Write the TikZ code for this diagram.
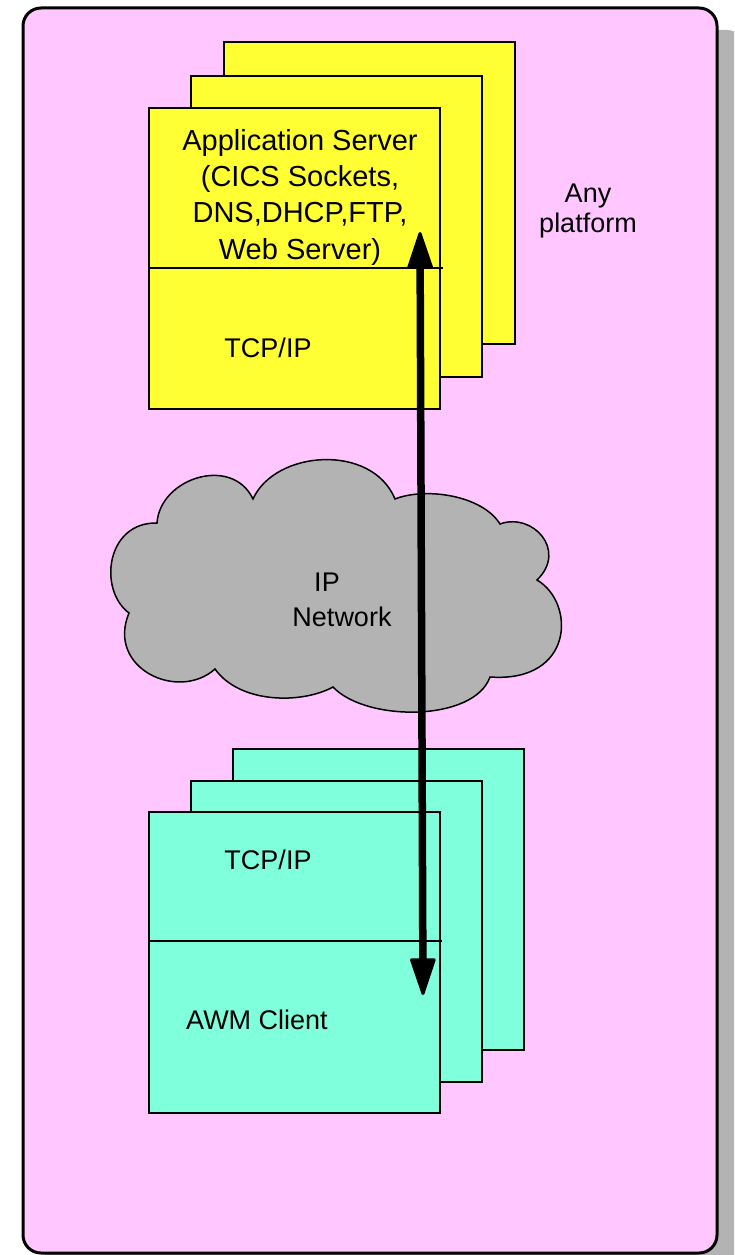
\documentclass[tikz,border=0pt]{standalone}
\usepackage{fontspec}
\setmainfont{Liberation Sans}
\usetikzlibrary{arrows.meta}
\definecolor{pinkbg}{HTML}{FFC6FF}
\definecolor{shadowgray}{HTML}{B3B3B3}
\definecolor{boxyellow}{HTML}{FFFF33}
\definecolor{boxcyan}{HTML}{80FFDC}
\definecolor{cloudgray}{HTML}{B3B3B3}
\tikzset{
  panel/.style={draw=black, line width=2pt, rectangle, inner sep=0pt, minimum width=291pt, minimum height=301pt},
  ybox/.style={panel, fill=boxyellow},
  cbox/.style={panel, fill=boxcyan},
  divider/.style={draw=black, line width=1.5pt},
  lbl/.style={inner sep=0pt, font=\fontsize{27}{30}\selectfont, text=black},
  bigtip/.tip={Triangle[length=40pt,width=26pt,line width=3pt,round]},
  bigarrow/.style={line width=7.5pt, bigtip-bigtip}
}
\begin{document}
\begin{tikzpicture}[x=1pt,y=-1pt]
\useasboundingbox (0,0) rectangle (734,1255);
% shadow
\begin{scope}
\clip (0,0) rectangle (734,1255);
\fill[shadowgray, rounded corners=18pt] (45,30) rectangle (745,1280);
\end{scope}
% outer panel
\draw[line width=3pt, fill=pinkbg, rounded corners=18pt] (23,8) rectangle (717,1253);
% yellow stack
\node[ybox] (ys3) at (369.5,193) {};
\node[ybox] (ys2) at (336.5,226) {};
\node[ybox] (ys1) at (294.5,258) {};
\draw[divider] (149,268) -- (443,268);
\node[lbl, anchor=north, align=center, font=\fontsize{29}{36.3}\selectfont] (appsrv) at (300,129)
  {Application Server\\(CICS Sockets,\\DNS,DHCP,FTP,\\Web Server)};
\node[lbl, anchor=base] (tcpy) at (268,357) {TCP/IP};
% any platform
\node[lbl, anchor=north, align=center] (anyp) at (588,184) {Any\\platform};
% cloud
\filldraw[fill=cloudgray, draw=black, line width=1.5pt]
  (157,523) .. controls (160,478) and (232,455) .. (253,499)
  .. controls (275,450) and (372,443) .. (395,499)
  .. controls (425,487) and (482,495) .. (500,524)
  .. controls (532,512) and (568,550) .. (537,580)
  .. controls (576,603) and (574,683) .. (490,677)
  .. controls (474,722) and (366,722) .. (333,687)
  .. controls (302,704) and (240,704) .. (215,669)
  .. controls (178,702) and (106,668) .. (129,613)
  .. controls (98,590) and (106,522) .. (157,523) -- cycle;
\node[lbl, anchor=base] (ip1) at (327,591) {IP};
\node[lbl, anchor=base] (ip2) at (342,626) {Network};
% cyan stack
\node[cbox] (cs3) at (378,899.5) {};
\node[cbox] (cs2) at (336,931.5) {};
\node[cbox] (cs1) at (294,962.5) {};
\draw[divider] (149,941) -- (442,941);
\node[lbl, anchor=base] (tcpc) at (268,869) {TCP/IP};
\node[lbl, anchor=base] (awm) at (257,1029) {AWM Client};
% arrow
\coordinate (atop) at (420,232);
\coordinate (abot) at (423,995);
\draw[bigarrow] (atop) -- (abot);
\end{tikzpicture}
\end{document}
